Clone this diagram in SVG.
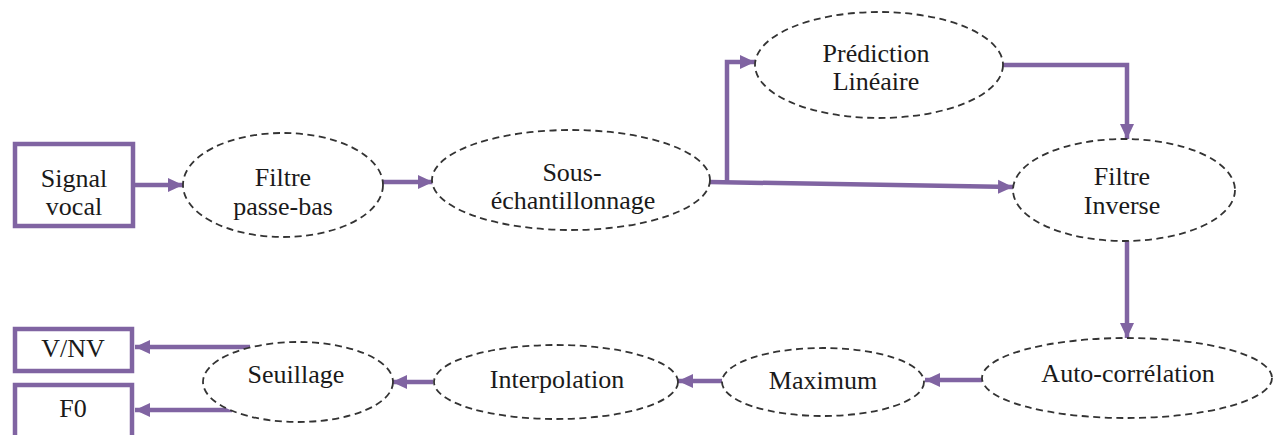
<svg xmlns="http://www.w3.org/2000/svg" width="1282" height="435" viewBox="0 0 1282 435">
<style>
.box{fill:#fff;stroke:#8064a2;stroke-width:4.5}
.ell{fill:#fff;stroke:#333;stroke-width:1.8;stroke-dasharray:7 4.5}
.lbl{font-family:'Liberation Serif','DejaVu Serif',serif;font-size:26px;fill:#1a1a1a;text-anchor:middle}
.con{fill:none;stroke:#8064a2;stroke-width:4.5;marker-end:url(#ah)}
</style>
<defs>
<marker id="ah" markerUnits="userSpaceOnUse" markerWidth="16" markerHeight="16" refX="15" refY="8" orient="auto">
<path d="M0,1 L15,8 L0,15 z" fill="#8064a2"/>
</marker>
</defs>
<rect width="1282" height="435" fill="#fff"/>
<g id="connectors">
<line class="con" x1="133" y1="185" x2="183" y2="185"/>
<line class="con" x1="383" y1="182" x2="433" y2="182"/>
<polyline class="con" points="710,182 1013,187"/>
<polyline class="con" points="727,182 727,62 755,62"/>
<polyline class="con" points="1003,65 1127,65 1127,139"/>
<line class="con" x1="1127" y1="241" x2="1127" y2="338"/>
<line class="con" x1="982" y1="380" x2="925" y2="380"/>
<line class="con" x1="722" y1="381" x2="678" y2="381"/>
<line class="con" x1="433" y1="382" x2="392" y2="382"/>
<line class="con" x1="250" y1="347" x2="135" y2="347"/>
<line class="con" x1="232" y1="410" x2="135" y2="410"/>
</g>
<g id="signal"><rect class="box" x="15" y="144" width="118" height="82"/><text class="lbl" font-family="Liberation Serif, DejaVu Serif, serif" x="74" y="187">Signal</text><text class="lbl" font-family="Liberation Serif, DejaVu Serif, serif" x="74" y="215">vocal</text></g>
<g id="filtre-passe-bas"><ellipse class="ell" cx="283" cy="185" rx="100" ry="52"/><text class="lbl" font-family="Liberation Serif, DejaVu Serif, serif" x="283" y="186">Filtre</text><text class="lbl" font-family="Liberation Serif, DejaVu Serif, serif" x="283" y="215">passe-bas</text></g>
<g id="sous-echantillonnage"><ellipse class="ell" cx="571" cy="180" rx="139" ry="50"/><text class="lbl" font-family="Liberation Serif, DejaVu Serif, serif" x="572" y="181">Sous-</text><text class="lbl" font-family="Liberation Serif, DejaVu Serif, serif" x="573" y="209">échantillonnage</text></g>
<g id="prediction"><ellipse class="ell" cx="879" cy="65" rx="124" ry="53"/><text class="lbl" font-family="Liberation Serif, DejaVu Serif, serif" x="876" y="62">Prédiction</text><text class="lbl" font-family="Liberation Serif, DejaVu Serif, serif" x="876" y="90">Linéaire</text></g>
<g id="filtre-inverse"><ellipse class="ell" cx="1124" cy="190" rx="111" ry="51"/><text class="lbl" font-family="Liberation Serif, DejaVu Serif, serif" x="1122" y="185">Filtre</text><text class="lbl" font-family="Liberation Serif, DejaVu Serif, serif" x="1122" y="214">Inverse</text></g>
<g id="auto-correlation"><ellipse class="ell" cx="1127" cy="378" rx="145" ry="40"/><text class="lbl" font-family="Liberation Serif, DejaVu Serif, serif" x="1128" y="382">Auto-corrélation</text></g>
<g id="maximum"><ellipse class="ell" cx="823" cy="382" rx="101" ry="34"/><text class="lbl" font-family="Liberation Serif, DejaVu Serif, serif" x="823" y="389">Maximum</text></g>
<g id="interpolation"><ellipse class="ell" cx="556" cy="382" rx="122" ry="37"/><text class="lbl" font-family="Liberation Serif, DejaVu Serif, serif" x="557" y="388">Interpolation</text></g>
<g id="seuillage"><ellipse class="ell" cx="298" cy="382" rx="95" ry="40"/><text class="lbl" font-family="Liberation Serif, DejaVu Serif, serif" x="296" y="383">Seuillage</text></g>
<g id="vnv"><rect class="box" x="15" y="329" width="117" height="42"/><text class="lbl" font-family="Liberation Serif, DejaVu Serif, serif" x="73" y="357">V/NV</text></g>
<g id="f0"><rect class="box" x="15" y="385" width="117" height="55"/><text class="lbl" font-family="Liberation Serif, DejaVu Serif, serif" x="73" y="417">F0</text></g>
</svg>
